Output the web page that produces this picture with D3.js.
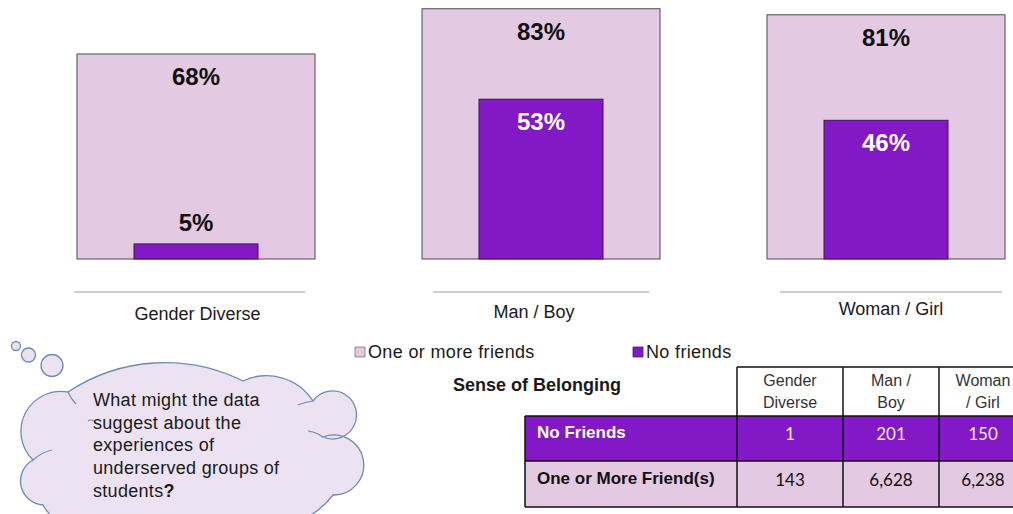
<!DOCTYPE html>
<html>
<head>
<meta charset="utf-8">
<script src="https://cdn.jsdelivr.net/npm/d3@7"></script>
<style>
  html, body { margin: 0; padding: 0; background: #fff; }
  svg { display: block; font-family: "Liberation Sans", Arial, Helvetica, sans-serif; }
</style>
</head>
<body>
<svg id="chart" width="1013" height="514"></svg>
<script>
// Categories and percentages per gender group
const categories = ["Gender Diverse", "Man / Boy", "Woman / Girl"];
const seriesNames = ["One or more friends", "No friends"];
const oneOrMorePct = [68, 83, 81];
const noFriendsPct = [5, 53, 46];

// Counts table
const tableTitle = "Sense of Belonging";
const tableHeaders = [["Gender", "Diverse"], ["Man /", "Boy"], ["Woman", "/ Girl"]];
const tableRowLabels = ["No Friends", "One or More Friend(s)"];
const noFriendsCount = [1, 201, 150];
const oneOrMoreCount = [143, 6628, 6238];

// Discussion prompt
const promptLines = ["What might the data", "suggest about the", "experiences of", "underserved groups of", "students"];

const PINK = "#e3c9e1";
const PURPLE = "#8318c6";
const CLOUD_FILL = "#ece2f2";
const CLOUD_STROKE = "#6f8cb0";

const svg = d3.select("#chart");

// ---- bar panels ----
const x = d3.scaleBand().domain(categories).range([23.5, 1058.5]);
const y = d3.scaleLinear().domain([0, 100]).range([259, -42.5]);
const outerW = 238, innerW = 124;
const cx = c => x(c) + x.bandwidth() / 2;

// rule under each panel and its category label
const ruleLayout = [
  { l: -122, r: 109, dx: 1.5, ly: 319.5 },
  { l: -108, r: 108, dx: -7, ly: 317.5 },
  { l: -106, r: 116, dx: 5, ly: 314.5 }
];

const panels = svg.selectAll("g.panel")
  .data(categories.map((c, i) => ({ c, i, outer: oneOrMorePct[i], inner: noFriendsPct[i] })))
  .join("g").attr("class", "panel");

panels.append("rect")
  .attr("x", d => cx(d.c) - outerW / 2)
  .attr("y", d => y(d.outer))
  .attr("width", outerW)
  .attr("height", d => y(0) - y(d.outer))
  .attr("fill", PINK)
  .attr("stroke", "#4a4a4a")
  .attr("stroke-width", 1);

panels.append("rect")
  .attr("x", d => cx(d.c) - innerW / 2)
  .attr("y", d => y(d.inner))
  .attr("width", innerW)
  .attr("height", d => y(0) - y(d.inner))
  .attr("fill", PURPLE)
  .attr("stroke", "#3a1a50")
  .attr("stroke-width", 1);

panels.append("text")
  .attr("x", d => cx(d.c))
  .attr("y", d => y(d.outer) + 31)
  .attr("text-anchor", "middle")
  .attr("font-size", 24).attr("font-weight", "bold").attr("fill", "#111")
  .text(d => d.outer + "%");

panels.append("text")
  .attr("x", d => cx(d.c))
  .attr("y", d => (y(0) - y(d.inner) > 50) ? y(d.inner) + 31 : y(d.inner) - 12.5)
  .attr("text-anchor", "middle")
  .attr("font-size", 24).attr("font-weight", "bold")
  .attr("fill", d => (y(0) - y(d.inner) > 50) ? "#fff" : "#111")
  .text(d => d.inner + "%");

panels.append("line")
  .attr("x1", d => cx(d.c) + ruleLayout[d.i].l)
  .attr("x2", d => cx(d.c) + ruleLayout[d.i].r)
  .attr("y1", 292).attr("y2", 292)
  .attr("stroke", "#9c9c9c").attr("stroke-width", 1);

panels.append("text")
  .attr("x", d => cx(d.c) + ruleLayout[d.i].dx)
  .attr("y", d => ruleLayout[d.i].ly)
  .attr("text-anchor", "middle")
  .attr("font-size", 18).attr("fill", "#1a1a1a")
  .text(d => d.c);

// ---- legend ----
const legendX = [355, 633];
const legend = svg.selectAll("g.legend")
  .data(seriesNames)
  .join("g").attr("class", "legend")
  .attr("transform", (d, i) => `translate(${legendX[i]},347)`);
legend.append("rect")
  .attr("width", 10).attr("height", 10)
  .attr("fill", (d, i) => i === 0 ? PINK : PURPLE)
  .attr("stroke", (d, i) => i === 0 ? "#777" : "#4a1a70")
  .attr("stroke-width", 0.8);
legend.append("text")
  .attr("x", 13).attr("y", 10.5)
  .attr("font-size", 18).attr("letter-spacing", 0.35).attr("fill", "#1a1a1a")
  .text(d => d);

// ---- thought cloud ----
const cloud = svg.append("g").attr("class", "cloud");
const bubbles = [[16, 346, 4.5], [28.5, 355, 7], [52, 365.5, 11]];
cloud.selectAll("circle")
  .data(bubbles)
  .join("circle")
  .attr("cx", d => d[0]).attr("cy", d => d[1]).attr("r", d => d[2])
  .attr("fill", CLOUD_FILL).attr("stroke", CLOUD_STROKE).attr("stroke-width", 1.3);

const cloudPath = [
  "M68,392",
  "A175,175 0 0 1 243,381",
  "A55,55 0 0 1 313,401",
  "A24,24 0 1 1 323,437",
  "A30,30 0 1 1 333,495",
  "A79,79 0 0 1 230,515",
  "A70,70 0 0 1 120,518",
  "A50,50 0 0 1 43,505",
  "A24,24 0 0 1 33,460",
  "A40,40 0 0 1 68,392",
  "Z"
].join(" ");
cloud.append("path")
  .attr("d", cloudPath)
  .attr("fill", CLOUD_FILL).attr("stroke", CLOUD_STROKE).attr("stroke-width", 1.3);

// inner creases where the puffs meet
const creases = [
  "M68,392 Q71,399 76,404",
  "M313,401 Q305,402 298,405",
  "M323,437 Q316,432 308,431",
  "M33,460 Q42,452 52,450",
  "M88,421 Q92,418 97,424"
];
cloud.selectAll("path.crease")
  .data(creases)
  .join("path").attr("class", "crease")
  .attr("d", d => d)
  .attr("fill", "none").attr("stroke", CLOUD_STROKE).attr("stroke-width", 1.2);

const promptText = cloud.append("text")
  .attr("font-size", 18).attr("letter-spacing", 0.3).attr("fill", "#1a1a1a");
promptLines.forEach((line, i) => {
  promptText.append("tspan")
    .attr("x", 93).attr("y", 406 + i * 22.7)
    .text(line);
  if (i === promptLines.length - 1) {
    promptText.append("tspan").attr("font-weight", "bold").text("?");
  }
});

// ---- counts table ----
const fmt = d3.format(",");
const colX = [525, 737, 843, 939, 1027];
const rowY = [367, 416, 461, 507];
const table = svg.append("g").attr("class", "table");

table.append("text")
  .attr("x", 453).attr("y", 391)
  .attr("font-size", 18).attr("font-weight", "bold").attr("fill", "#1a1a1a")
  .text(tableTitle);

// header cells
table.append("rect")
  .attr("x", colX[1]).attr("y", rowY[0])
  .attr("width", colX[4] - colX[1]).attr("height", rowY[1] - rowY[0])
  .attr("fill", "#fff");

// body rows
const rowFills = [PURPLE, PINK];
table.selectAll("rect.row")
  .data(tableRowLabels)
  .join("rect").attr("class", "row")
  .attr("x", colX[0]).attr("y", (d, i) => rowY[i + 1])
  .attr("width", colX[4] - colX[0]).attr("height", (d, i) => rowY[i + 2] - rowY[i + 1])
  .attr("fill", (d, i) => rowFills[i]);

// grid lines
const gridColor = "#111";
const hLines = [
  [colX[1], colX[4], rowY[0]],
  [colX[0], colX[4], rowY[1]],
  [colX[0], colX[4], rowY[2]],
  [colX[0], colX[4], rowY[3]]
];
table.selectAll("line.h")
  .data(hLines)
  .join("line").attr("class", "h")
  .attr("x1", d => d[0]).attr("x2", d => d[1])
  .attr("y1", d => d[2]).attr("y2", d => d[2])
  .attr("stroke", gridColor).attr("stroke-width", 1.5);
const vLines = [
  [colX[0], rowY[1], rowY[3]],
  [colX[1], rowY[0], rowY[3]],
  [colX[2], rowY[0], rowY[3]],
  [colX[3], rowY[0], rowY[3]],
  [colX[4], rowY[0], rowY[3]]
];
table.selectAll("line.v")
  .data(vLines)
  .join("line").attr("class", "v")
  .attr("x1", d => d[0]).attr("x2", d => d[0])
  .attr("y1", d => d[1]).attr("y2", d => d[2])
  .attr("stroke", gridColor).attr("stroke-width", 1.5);

// header labels
const colCenter = i => (colX[i + 1] + colX[i + 2]) / 2;
tableHeaders.forEach((lines, i) => {
  const t = table.append("text")
    .attr("text-anchor", "middle")
    .attr("font-size", 16).attr("fill", "#333");
  lines.forEach((ln, j) => {
    t.append("tspan").attr("x", colCenter(i)).attr("y", 386 + j * 22).text(ln);
  });
});

// row labels
table.selectAll("text.rowlabel")
  .data(tableRowLabels)
  .join("text").attr("class", "rowlabel")
  .attr("x", 537).attr("y", (d, i) => [438, 484][i])
  .attr("font-size", 17).attr("font-weight", "bold")
  .attr("fill", (d, i) => i === 0 ? "#fff" : "#111")
  .text(d => d);

// counts
const counts = [noFriendsCount, oneOrMoreCount];
counts.forEach((row, r) => {
  table.selectAll(`text.count${r}`)
    .data(row)
    .join("text").attr("class", `count${r}`)
    .attr("x", (d, i) => colCenter(i))
    .attr("y", [440, 486][r])
    .attr("text-anchor", "middle")
    .attr("font-family", "Lato, 'Open Sans', sans-serif")
    .attr("font-size", 17)
    .attr("fill", r === 0 ? "#f3ebf9" : "#111")
    .text(d => fmt(d));
});
</script>
</body>
</html>
